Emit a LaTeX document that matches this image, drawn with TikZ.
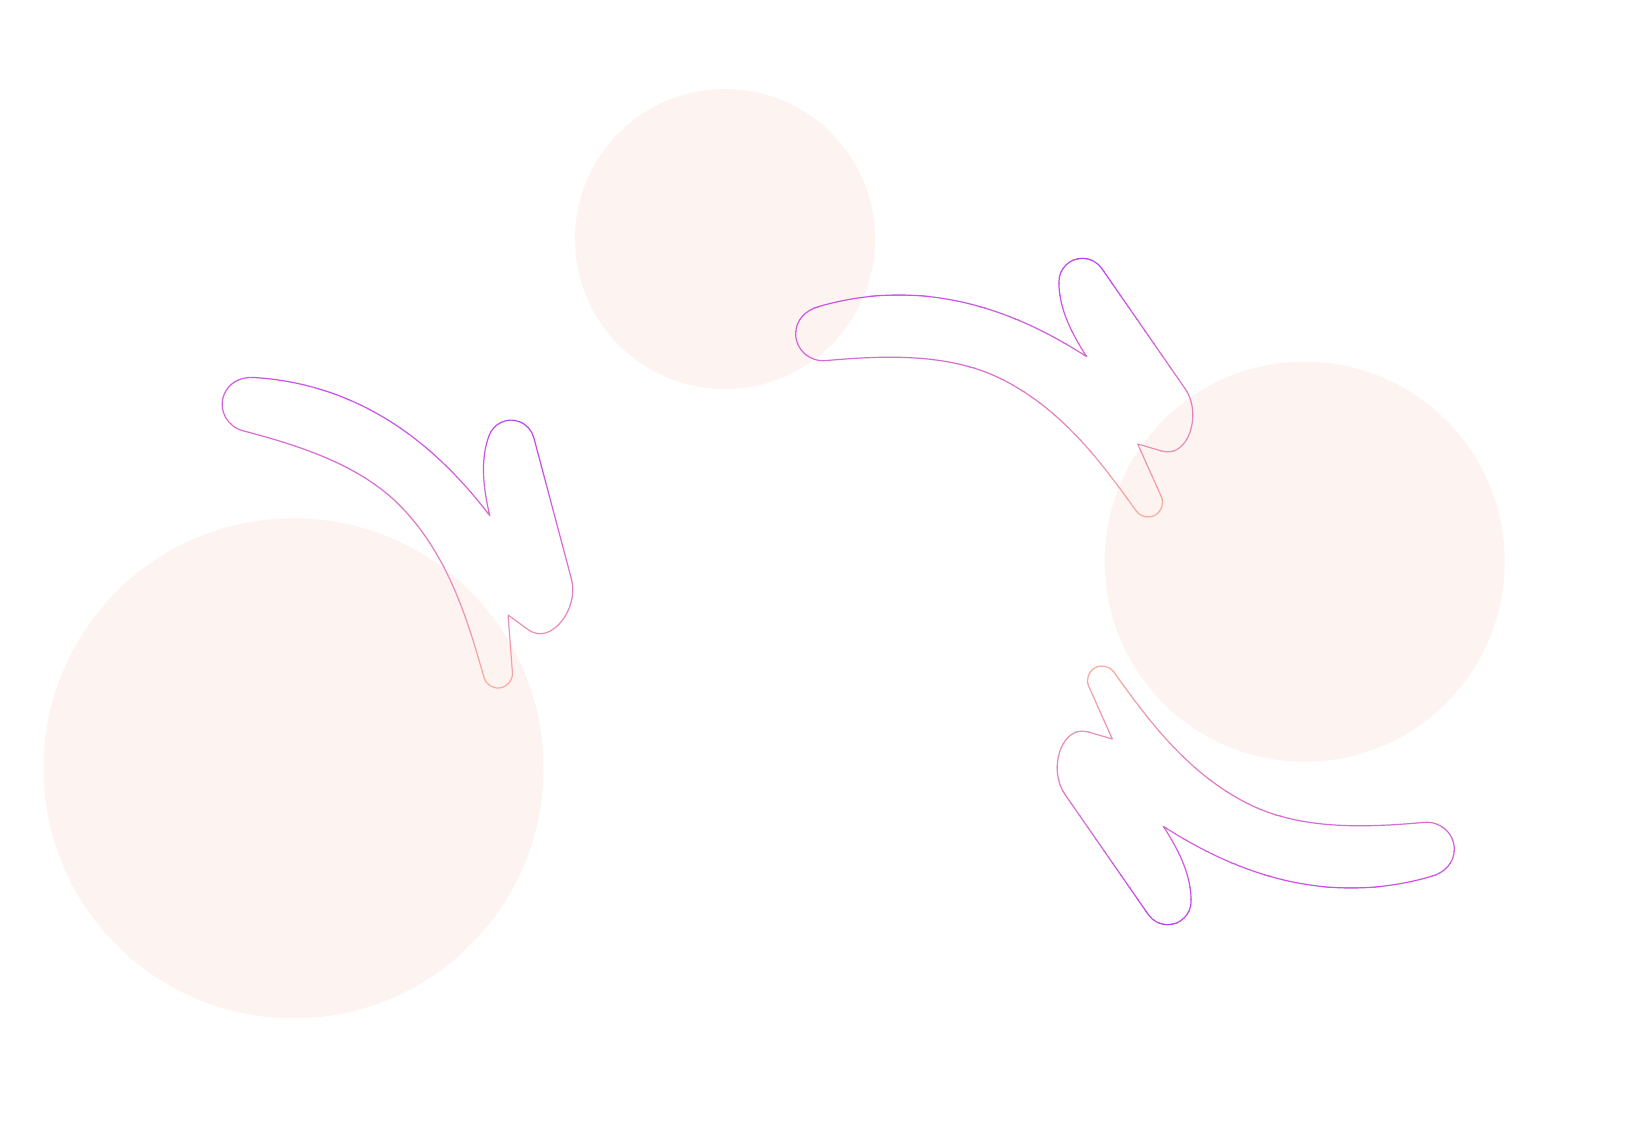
\documentclass[tikz,border=0pt]{standalone}
\definecolor{blob}{RGB}{253,244,242}
\definecolor{arrtop}{RGB}{192,64,246}
\definecolor{arrbot}{RGB}{248,172,158}
\tikzset{arrline/.style={line width=0.6pt, line join=round}}
\newcommand\arrowpath{(1137.7,444) -- (1161.26,496.63)
  .. controls (1164.27,503.42) and (1161.66,511.38) .. (1155.22,515.08)
  .. controls (1148.78,518.78) and (1140.56,517.0) .. (1136.22,510.96)
  .. controls (1103.5,465.5) and (1062.9,409) .. (1000,378.3)
  .. controls (947.9,352.9) and (883.8,355.4) .. (826,360.6)
  .. controls (809.6,362.1) and (795.7,349.75) .. (795.7,334)
  .. controls (795.7,320) and (805.5,310.4) .. (818.3,306.7)
  .. controls (933.5,273.1) and (1027.8,318.8) .. (1086.7,356.7)
  .. controls (1068,328) and (1058.9,305) .. (1058.9,281.8)
  .. controls (1058.9,268.8) and (1069.4,258.3) .. (1082.4,258.3)
  .. controls (1090.1,258.3) and (1097.3,262.1) .. (1101.7,268.4)
  -- (1185.3,389)
  .. controls (1202.4,413.7) and (1188.6,458.8) .. (1161.7,451)
  -- cycle}
\newcommand\gradarrow{%
  \foreach \i in {0,...,24}{%
    \pgfmathsetmacro\ya{248+\i*12}%
    \pgfmathsetmacro\yb{\ya+12}%
    \pgfmathtruncatemacro\pc{max(0,min(100,100-((\ya+6)-258)/259*100))}%
    \begin{scope}
      \clip (760,\ya) rectangle (1240,\yb);
      \draw[arrline, draw=arrtop!\pc!arrbot] \arrowpath;
    \end{scope}
  }}
\begin{document}
\begin{tikzpicture}[x=0.5pt,y=-0.5pt]
\useasboundingbox (0,0) rectangle (1628,1144);
\fill[white] (0,0) rectangle (1628,1144);
% background circles
\fill[blob] (725,239) circle[radius=150];
\fill[blob] (293.5,768.3) circle[radius=250];
\fill[blob] (1304.7,561.7) circle[radius=200];
% top arrow
\begin{scope}
  \gradarrow
\end{scope}
% left arrow
\begin{scope}[shift={(451.16,530.5)}, rotate=-19.83, shift={(-1055.46,-383.8)}]
  \gradarrow
\end{scope}
% bottom-right arrow
\begin{scope}[shift={(1188.5,806.3)}, rotate=180, shift={(-1061.5,-376.7)}]
  \gradarrow
\end{scope}
\end{tikzpicture}
\end{document}
